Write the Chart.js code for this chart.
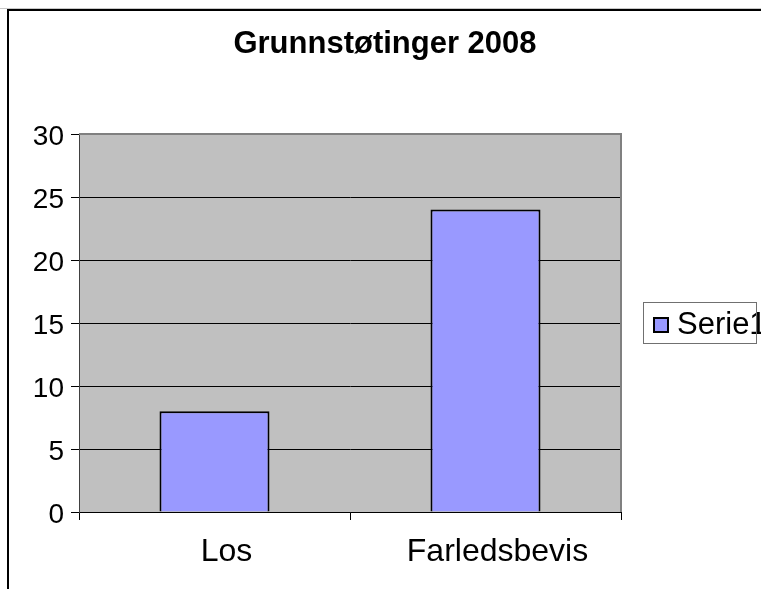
<!DOCTYPE html>
<html><head><meta charset="utf-8">
<script src="https://cdn.jsdelivr.net/npm/chart.js@4/dist/chart.umd.min.js"></script>
<style>
html,body{margin:0;padding:0;overflow:hidden;background:#fff;width:761px;height:589px}
#wrap{position:absolute;left:0;top:0;width:800px;height:620px}
canvas{display:block}
</style></head>
<body><div id="wrap"><canvas id="c" width="800" height="620"></canvas></div>
<script>
const categories = ['Los', 'Farledsbevis'];
const seriesName = 'Serie1';
const values = [8, 24];
const yTickValues = [0, 5, 10, 15, 20, 25, 30];
const titleText = 'Grunnstøtinger 2008';

const FONT = '"Liberation Sans", Arial, sans-serif';
const W = 800, H = 620;
const AREA = {left: 79, right: 621, top: 134, bottom: 512};
const PAD_RIGHT = 30;
const TITLE_SIZE = 31;

const framePlugin = {
  id: 'frame',
  beforeDraw(chart) {
    const ctx = chart.ctx;
    ctx.save();
    ctx.fillStyle = '#ffffff';
    ctx.fillRect(0, 0, W, H);
    ctx.fillStyle = '#c8c8c8';
    ctx.fillRect(0, 8, W, 1);
    ctx.fillStyle = '#000000';
    ctx.fillRect(7, 9, W, 2);
    ctx.fillRect(7, 9, 2, H);
    const a = chart.chartArea;
    ctx.fillStyle = '#c0c0c0';
    ctx.fillRect(a.left, a.top, a.right - a.left, a.bottom - a.top);
    ctx.restore();
  },
  beforeDatasetsDraw(chart) {
    const ctx = chart.ctx, a = chart.chartArea;
    ctx.save();
    ctx.strokeStyle = '#808080';
    ctx.lineWidth = 2;
    ctx.beginPath();
    ctx.moveTo(a.left, a.top);
    ctx.lineTo(a.right, a.top);
    ctx.lineTo(a.right, a.bottom);
    ctx.stroke();
    ctx.restore();
  },
  afterDraw(chart) {
    const ctx = chart.ctx;
    const ds = chart.data.datasets[0];
    ctx.save();
    ctx.fillStyle = '#000';
    ctx.font = '31px ' + FONT;
    ctx.textBaseline = 'middle';
    ctx.textAlign = 'left';
    ctx.fillText(ds.label, 677, 325);
    ctx.strokeStyle = '#707070';
    ctx.lineWidth = 1;
    ctx.strokeRect(643.5, 302.5, 113, 41);
    ctx.fillStyle = ds.backgroundColor;
    ctx.fillRect(654, 318, 14, 14);
    ctx.strokeStyle = '#000';
    ctx.lineWidth = 2;
    ctx.strokeRect(654, 318, 14, 14);
    ctx.restore();
  }
};

new Chart(document.getElementById('c'), {
  type: 'bar',
  data: {
    labels: categories,
    datasets: [{
      label: seriesName,
      data: values,
      backgroundColor: '#9999ff',
      borderColor: '#000000',
      borderWidth: 2,
      barPercentage: 0.406,
      categoryPercentage: 1.0
    }]
  },
  options: {
    responsive: false,
    animation: false,
    devicePixelRatio: 1,
    layout: {padding: {left: 0, top: 0, right: PAD_RIGHT, bottom: 0}},
    plugins: {
      legend: {display: false},
      tooltip: {enabled: false},
      title: {
        display: true,
        text: titleText,
        color: '#000',
        font: {family: FONT, size: TITLE_SIZE, weight: 'bold', lineHeight: 1.2},
        padding: {top: 25.5, bottom: AREA.top - 25.5 - TITLE_SIZE * 1.2}
      }
    },
    scales: {
      x: {
        offset: true,
        afterFit(s) { s.height = H - AREA.bottom; },
        grid: {display: true, drawOnChartArea: false, drawTicks: true, tickLength: 8, color: '#000', tickColor: '#000', offset: true},
        border: {display: true, color: '#000', width: 1},
        ticks: {color: '#000', font: {family: FONT, size: 32}, padding: 13, labelOffset: 12, maxRotation: 0, autoSkip: false}
      },
      y: {
        min: 0, max: 30,
        afterFit(s) { s.width = AREA.left; },
        afterBuildTicks(s) { s.ticks = yTickValues.map(v => ({value: v})); },
        grid: {display: true, drawOnChartArea: true, drawTicks: true, tickLength: 8, color: '#000', tickColor: '#000', lineWidth: 1},
        border: {display: true, color: '#404040', width: 1},
        ticks: {color: '#000', font: {family: FONT, size: 28}, padding: 7, labelOffset: 3}
      },
      spacer: {
        type: 'linear',
        position: 'right',
        display: true,
        afterFit(s) { s.width = W - PAD_RIGHT - AREA.right; },
        grid: {display: false, drawTicks: false},
        border: {display: false},
        ticks: {display: false}
      }
    }
  },
  plugins: [framePlugin]
});
</script>
</body></html>
